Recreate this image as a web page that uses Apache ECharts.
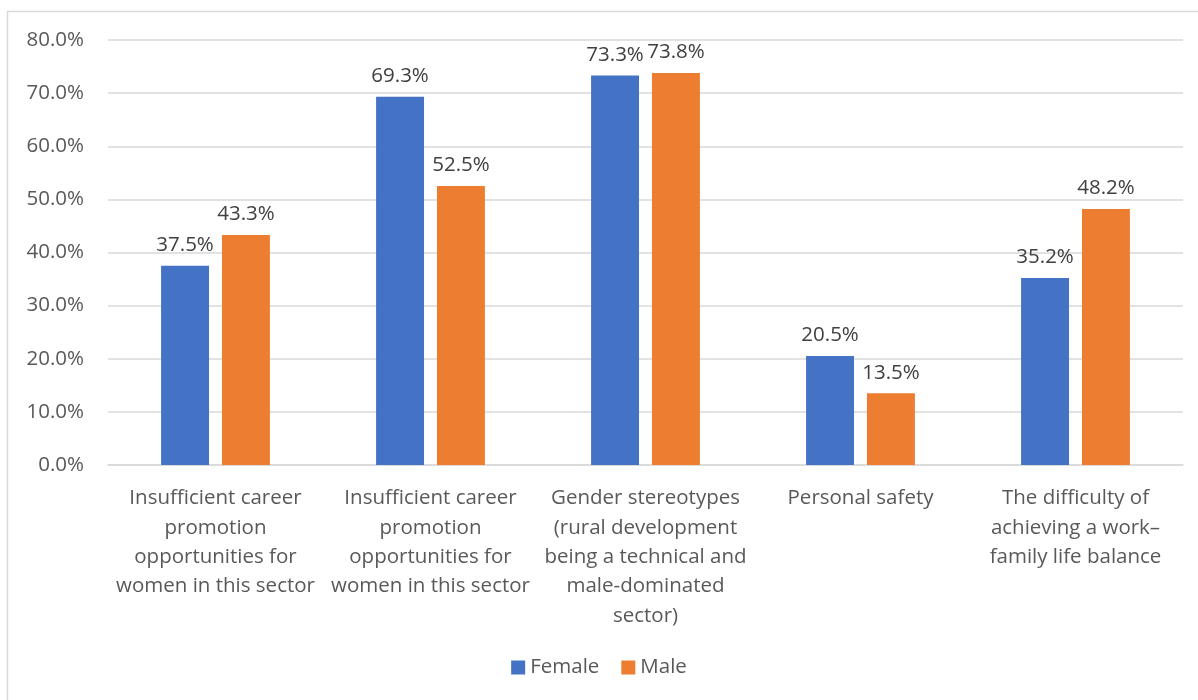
<!DOCTYPE html>
<html>
<head>
<meta charset="utf-8">
<script src="https://cdn.jsdelivr.net/npm/echarts@6/dist/echarts.min.js"></script>
<style>
  html, body { margin: 0; padding: 0; background: #ffffff; }
  #chart { width: 1198px; height: 700px; }
</style>
</head>
<body>
<div id="chart"></div>
<script>
// Reasons given, split by respondent gender
const categories = [
  'Insufficient career\npromotion\nopportunities for\nwomen in this sector',
  'Insufficient career\npromotion\nopportunities for\nwomen in this sector',
  'Gender stereotypes\n(rural development\nbeing a technical and\nmale-dominated\nsector)',
  'Personal safety',
  'The difficulty of\nachieving a work–\nfamily life balance'
];
const femaleValues = [37.5, 69.3, 73.3, 20.5, 35.2];
const maleValues = [43.3, 52.5, 73.8, 13.5, 48.2];
const seriesNames = ['Female', 'Male'];
const yTicks = { min: 0, max: 80, interval: 10 };

const FONT = '"Open Sans", "Liberation Sans", sans-serif';
const FS = 20.5;

const chart = echarts.init(document.getElementById('chart'), null, { renderer: 'canvas' });

const labelCfg = {
  show: true,
  position: 'top',
  distance: 10,
  color: '#404040',
  fontSize: FS,
  fontFamily: FONT,
  formatter: p => p.value.toFixed(1) + '%'
};

chart.setOption({
  animation: false,
  backgroundColor: '#ffffff',
  graphic: [{
    type: 'rect',
    shape: { x: 7.5, y: 11.5, width: 1300, height: 800 },
    style: { fill: 'none', stroke: '#d9d9d9', lineWidth: 1.5 },
    silent: true
  }],
  grid: { left: 108, right: 15, top: 40, bottom: 235, containLabel: false },
  legend: {
    data: seriesNames,
    bottom: 17,
    left: 'center',
    itemWidth: 14,
    itemHeight: 14,
    itemGap: 22,
    icon: 'rect',
    textStyle: { color: '#595959', fontSize: FS, fontFamily: FONT, padding: [0, 0, 0, 0] }
  },
  xAxis: {
    type: 'category',
    data: categories,
    axisLine: { show: true, lineStyle: { color: '#d9d9d9', width: 1.5 } },
    axisTick: { show: false },
    axisLabel: {
      interval: 0,
      margin: 19,
      color: '#595959',
      fontSize: FS,
      lineHeight: 29.3,
      fontFamily: FONT,
      align: 'center',
      verticalAlign: 'top'
    }
  },
  yAxis: {
    type: 'value',
    min: yTicks.min,
    max: yTicks.max,
    interval: yTicks.interval,
    axisLine: { show: false },
    axisTick: { show: false },
    splitLine: { lineStyle: { color: '#d9d9d9', width: 1.5 } },
    axisLabel: {
      margin: 24,
      color: '#595959',
      fontSize: FS,
      fontFamily: FONT,
      formatter: v => v.toFixed(1) + '%'
    }
  },
  series: [
    {
      name: seriesNames[0],
      type: 'bar',
      data: femaleValues,
      barWidth: '22.3%',
      barGap: '27%',
      itemStyle: { color: '#4472c4' },
      label: labelCfg
    },
    {
      name: seriesNames[1],
      type: 'bar',
      data: maleValues,
      barWidth: '22.3%',
      itemStyle: { color: '#ed7d31' },
      label: labelCfg
    }
  ]
});
</script>
</body>
</html>
